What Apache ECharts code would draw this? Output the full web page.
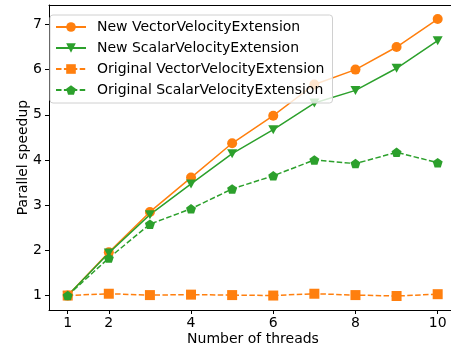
<!DOCTYPE html>
<html>
<head>
<meta charset="utf-8">
<script src="https://cdn.jsdelivr.net/npm/echarts@6/dist/echarts.min.js"></script>
<style>html,body{margin:0;padding:0;background:#fff;overflow:hidden}#c{width:457px;height:351px}</style>
</head>
<body>
<div id="c"></div>
<script>
const threads = [1, 2, 3, 4, 5, 6, 7, 8, 9, 10];
const newVector = [1.0, 1.96, 2.85, 3.61, 4.37, 4.98, 5.67, 6.0, 6.5, 7.12];
const newScalar = [1.0, 1.94, 2.79, 3.47, 4.14, 4.67, 5.26, 5.54, 6.03, 6.64];
const origVector = [1.0, 1.04, 1.01, 1.02, 1.01, 1.0, 1.04, 1.01, 0.99, 1.03];
const origScalar = [1.0, 1.83, 2.58, 2.92, 3.36, 3.65, 4.0, 3.92, 4.17, 3.94];
const xTicks = [1, 2, 4, 6, 8, 10];
const yTicks = [1, 2, 3, 4, 5, 6, 7];
const seriesNames = ['New VectorVelocityExtension', 'New ScalarVelocityExtension', 'Original VectorVelocityExtension', 'Original ScalarVelocityExtension'];

const ORANGE = '#ff7f0e', GREEN = '#2ca02c';
const triDown = 'path://M-1,-0.9 L1,-0.9 L0,0.9 Z';
const pentagon = 'path://M0,-1 L0.951,-0.309 L0.588,0.809 L-0.588,0.809 L-0.951,-0.309 Z';
const FONT = 'DejaVu Sans';

function pairs(vals) { return threads.map((t, i) => [t, vals[i]]); }
function mk(name, vals, color, symbol, size, dashed) {
  return {
    name, type: 'line', data: pairs(vals), symbol, symbolSize: size, symbolKeepAspect: true,
    showAllSymbol: true, xAxisIndex: 0, yAxisIndex: 0,
    lineStyle: { color, width: 1.5, type: dashed ? [5.5, 2.4] : 'solid' },
    itemStyle: { color, borderColor: color, borderWidth: 0, opacity: 1 },
    emphasis: { disabled: true }, animation: false
  };
}

const chart = echarts.init(document.getElementById('c'), null, { renderer: 'canvas' });
chart.setOption({
  animation: false,
  backgroundColor: '#fff',
  textStyle: { fontFamily: FONT },
  grid: { left: 49, top: 5, right: 0, bottom: 41, show: false, outerBoundsMode: 'none', containLabel: false },
  legend: {
    orient: 'vertical', left: 50, top: 15,
    data: seriesNames,
    itemWidth: 30, itemHeight: 12, itemGap: 5,
    padding: [4, 8, 5, 5],
    backgroundColor: 'rgba(255,255,255,0.8)', borderColor: '#d0d0d0', borderWidth: 1, borderRadius: 3,
    textStyle: { fontFamily: FONT, fontSize: 14, color: '#000', lineHeight: 16, padding: [0, 0, 0, 6] }
  },
  xAxis: [{
    type: 'value', min: 0.545, max: 10.47, position: 'bottom',
    name: 'Number of threads', nameLocation: 'middle', nameGap: 22, nameMoveOverlap: false,
    nameTextStyle: { fontFamily: FONT, fontSize: 14, color: '#000' },
    axisLine: { show: true, onZero: false, lineStyle: { color: '#000', width: 1 } },
    axisTick: { show: true, length: 4, lineStyle: { color: '#000' }, customValues: xTicks },
    axisLabel: { fontFamily: FONT, fontSize: 14, color: '#000', margin: 6, customValues: xTicks },
    splitLine: { show: false }
  }, {
    type: 'value', min: 0.545, max: 10.47, position: 'top',
    axisLine: { show: true, onZero: false, lineStyle: { color: '#000', width: 1 } },
    axisTick: { show: false }, axisLabel: { show: false }, splitLine: { show: false }
  }],
  yAxis: {
    type: 'value', min: 0.68, max: 7.43, position: 'left',
    name: 'Parallel speedup', nameLocation: 'middle', nameGap: 19, nameRotate: 90, nameMoveOverlap: false,
    nameTextStyle: { fontFamily: FONT, fontSize: 14, color: '#000' },
    axisLine: { show: true, onZero: false, lineStyle: { color: '#000', width: 1 } },
    axisTick: { show: true, length: 4, lineStyle: { color: '#000' }, customValues: yTicks },
    axisLabel: { fontFamily: FONT, fontSize: 14, color: '#000', margin: 7, customValues: yTicks },
    splitLine: { show: false }
  },
  series: [
    mk(seriesNames[0], newVector, ORANGE, 'circle', 10, false),
    mk(seriesNames[1], newScalar, GREEN, triDown, 10, false),
    mk(seriesNames[2], origVector, ORANGE, 'rect', 10, true),
    mk(seriesNames[3], origScalar, GREEN, pentagon, 10, true)
  ]
});
</script>
</body>
</html>
